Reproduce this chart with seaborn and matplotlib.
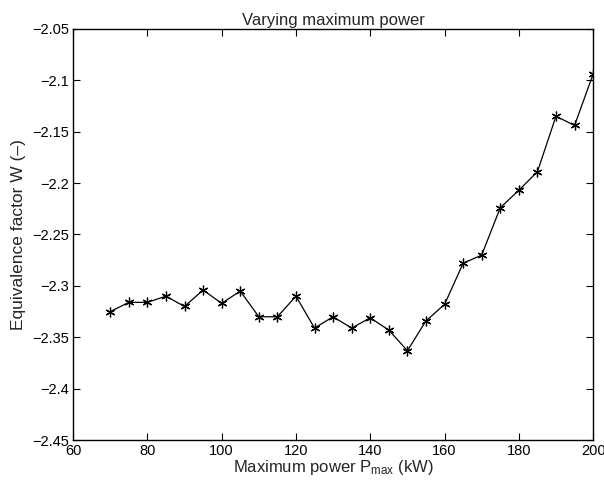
import numpy as np
import pandas as pd
import matplotlib
matplotlib.use("Agg")
import matplotlib.pyplot as plt
import seaborn as sns
from matplotlib.ticker import FuncFormatter

# data
p_max = [70, 75, 80, 85, 90, 95, 100, 105, 110, 115, 120, 125, 130, 135,
         140, 145, 150, 155, 160, 165, 170, 175, 180, 185, 190, 195, 200]
w_factor = [-2.325, -2.316, -2.316, -2.310, -2.320, -2.304, -2.317, -2.305,
            -2.330, -2.330, -2.310, -2.341, -2.330, -2.341, -2.331, -2.343,
            -2.363, -2.334, -2.318, -2.278, -2.270, -2.224, -2.207, -2.189,
            -2.135, -2.144, -2.094]

x_ticks = [60, 80, 100, 120, 140, 160, 180, 200]
y_ticks = [-2.45, -2.4, -2.35, -2.3, -2.25, -2.2, -2.15, -2.1, -2.05]

df = pd.DataFrame({"P_max": p_max, "W": w_factor})

sns.set_style("ticks")
plt.rcParams["font.family"] = ["Liberation Sans", "DejaVu Sans"]
plt.rcParams["mathtext.default"] = "regular"

fig = plt.figure(figsize=(6.04, 4.88), dpi=100)
ax = fig.add_axes([0.121, 0.098, 0.861, 0.843])

# matlab style asterisk markers
sns.lineplot(data=df, x="P_max", y="W", ax=ax, color="black", linewidth=0.9,
             marker=(6, 2, 0), markersize=7, markeredgewidth=0.9,
             markeredgecolor="black", markerfacecolor="black")

ax.set_xlim(60, 200)
ax.set_ylim(-2.45, -2.05)
ax.set_xticks(x_ticks)
ax.set_yticks(y_ticks)
ax.yaxis.set_major_formatter(FuncFormatter(lambda v, _: ("%g" % v).replace("-", "\u2212")))

ax.tick_params(direction="in", top=True, right=True, length=5, width=0.8,
               labelsize=10.5, colors="black", pad=3)
for s in ax.spines.values():
    s.set_visible(True)
    s.set_linewidth(1.0)
    s.set_color("black")

ax.set_title("Varying maximum power", fontsize=12, pad=3)
ax.set_xlabel("Maximum power P$_{max}$ (kW)", fontsize=12, labelpad=0)
ax.set_ylabel("Equivalence factor W (\u2013)", fontsize=12.5, labelpad=4)

fig.savefig("out.png", dpi=100)
plt.close()
